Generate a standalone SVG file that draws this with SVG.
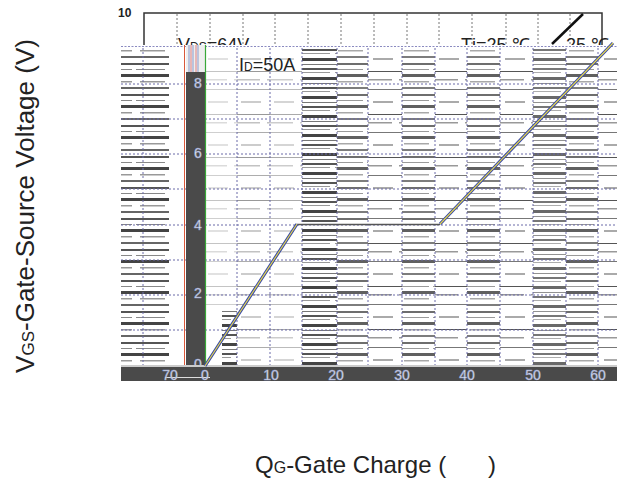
<svg xmlns="http://www.w3.org/2000/svg" width="617" height="481" viewBox="0 0 617 481">
<style>
.lbl{font-family:"Liberation Sans",Arial,sans-serif;fill:#222}
.tk{font-family:"Liberation Sans",Arial,sans-serif;font-size:14px;fill:#f4f4f4;stroke:#8a96c8;stroke-width:0.5;text-anchor:middle}
.grid{stroke:#6a6aa8;stroke-width:1;stroke-dasharray:2,2;fill:none}
.gridtop{stroke:#777;stroke-width:1;stroke-dasharray:2,2;fill:none}
</style>
<defs>
<pattern id="p1" width="33" height="31" patternUnits="userSpaceOnUse">
<rect x="0" y="1" width="33" height="2" fill="#555"/>
<rect x="4" y="7" width="29" height="1" fill="#888"/>
<rect x="0" y="12" width="33" height="3" fill="#444"/>
<rect x="8" y="19" width="25" height="1.5" fill="#999"/>
<rect x="0" y="25" width="33" height="2" fill="#666"/>
</pattern>
<pattern id="p2" width="33" height="43" patternUnits="userSpaceOnUse">
<rect x="0" y="3" width="33" height="1" fill="#777"/>
<rect x="10" y="15" width="20" height="2" fill="#aaa"/>
<rect x="0" y="28" width="33" height="1" fill="#555"/>
<rect x="3" y="36" width="26" height="1.5" fill="#999"/>
</pattern>
<pattern id="p3" width="33" height="19" patternUnits="userSpaceOnUse">
<rect x="0" y="1" width="33" height="3" fill="#444"/>
<rect x="0" y="7" width="33" height="1" fill="#777"/>
<rect x="0" y="11" width="33" height="2" fill="#555"/>
<rect x="5" y="15" width="28" height="1" fill="#999"/>
</pattern>
</defs>
<rect width="617" height="481" fill="#fff"/>

<g id="top-frame">
<path d="M144,45 V13 H602 V45" fill="none" stroke="#333" stroke-width="1.5"/>
<path class="gridtop" d="M177,14V45 M210,14V45 M243,14V45 M275,14V45 M308,14V45 M341,14V45 M374,14V45 M407,14V45 M439,14V45 M472,14V45 M506,14V45 M538,14V45 M570,14V45"/>
<text class="lbl" x="118" y="17" font-size="12" font-weight="bold">10</text>
<text class="lbl" x="178" y="51" font-size="18">V<tspan font-size="12">DS</tspan>=64V</text>
<text class="lbl" x="461" y="51" font-size="18">Tj=25 ℃</text>
<text class="lbl" x="566" y="51" font-size="18">25 ℃</text>
<line x1="552" y1="44" x2="583" y2="14" stroke="#111" stroke-width="2.5"/>
</g>

<g id="plot-area">
<rect x="121" y="45" width="496" height="322" fill="#fff"/>
<rect x="121" y="48" width="48" height="318" fill="url(#p1)"/>
<rect x="205" y="48" width="32" height="260" fill="url(#p2)" opacity="0.35"/>
<rect x="222" y="310" width="15" height="56" fill="url(#p3)"/>
<rect x="237" y="48" width="33" height="318" fill="url(#p2)" opacity="0.6"/>
<rect x="270" y="48" width="32" height="318" fill="url(#p2)" opacity="0.5"/>
<rect x="302" y="48" width="35" height="318" fill="url(#p3)"/>
<rect x="337" y="48" width="31" height="318" fill="url(#p1)" opacity="0.85"/>
<rect x="368" y="48" width="34" height="318" fill="url(#p2)"/>
<rect x="402" y="48" width="33" height="318" fill="url(#p1)" opacity="0.85"/>
<rect x="435" y="48" width="32" height="318" fill="url(#p2)"/>
<rect x="467" y="48" width="33" height="318" fill="url(#p1)" opacity="0.85"/>
<rect x="500" y="48" width="33" height="318" fill="url(#p2)"/>
<rect x="533" y="48" width="33" height="318" fill="url(#p3)" opacity="0.8"/>
<rect x="566" y="48" width="32" height="318" fill="url(#p1)" opacity="0.85"/>
<rect x="598" y="48" width="19" height="318" fill="url(#p2)"/>
<line x1="121" y1="46.5" x2="617" y2="46.5" stroke="#8a8ac0" stroke-width="1.2" stroke-dasharray="2,1.5"/>
<path class="grid" d="M121,84H617 M121,119H617 M121,154H617 M121,189H617 M121,225H617 M121,260H617 M121,295H617 M121,330H617"/>
<path class="grid" d="M143,48V366 M237,48V366 M270,48V366 M302,48V366 M337,48V366 M368,48V366 M402,48V366 M435,48V366 M467,48V366 M500,48V366 M533,48V366 M566,48V366 M598,48V366"/>
</g>

<g id="y-bar">
<rect x="186" y="45" width="19" height="27" fill="#eee"/>
<path d="M189,45V72 M193,45V72 M198,45V72" stroke="#8899cc" stroke-width="1"/>
<path d="M191,45V72 M196,45V72" stroke="#e08080" stroke-width="1"/>
<rect x="186" y="72" width="19" height="295" fill="#4a4a4a"/>
<line x1="184.5" y1="45" x2="184.5" y2="367" stroke="#d9583a" stroke-width="1"/>
<line x1="205.5" y1="45" x2="205.5" y2="367" stroke="#38a838" stroke-width="1.2"/>
<text class="tk" x="198" y="88">8</text>
<text class="tk" x="198" y="158">6</text>
<text class="tk" x="198" y="230">4</text>
<text class="tk" x="198" y="298">2</text>
<text class="tk" x="198" y="369">0</text>
</g>

<g id="x-bar">
<rect x="121" y="365" width="496" height="2" fill="#ccc"/>
<rect x="121" y="367" width="496" height="14" fill="#4a4a4a"/>
<line x1="165" y1="377.5" x2="210" y2="377.5" stroke="#ddd" stroke-width="1"/>
<text class="tk" x="170" y="380">70</text>
<text class="tk" x="205" y="380">0</text>
<text class="tk" x="271" y="380">10</text>
<text class="tk" x="336" y="380">20</text>
<text class="tk" x="402" y="380">30</text>
<text class="tk" x="467" y="380">40</text>
<text class="tk" x="533" y="380">50</text>
<text class="tk" x="598" y="380">60</text>
</g>

<g id="connectors">
<line x1="297" y1="224.5" x2="440" y2="224.5" stroke="#555" stroke-width="1.5"/>
<path d="M205,366 L297,224 M440,224 L613,43" fill="none" stroke="#3a4aa8" stroke-width="3.2"/>
<path d="M205,366 L297,224 M440,224 L613,43" fill="none" stroke="#e6d84a" stroke-width="1.1"/>
</g>

<g id="labels">
<text class="lbl" x="239" y="71" font-size="18">I<tspan font-size="12">D</tspan>=50A</text>
<text class="lbl" transform="translate(34,206) rotate(-90)" font-size="26" text-anchor="middle">V<tspan font-size="17">GS</tspan>-Gate-Source Voltage (V)</text>
<text class="lbl" x="255" y="473" font-size="24">Q<tspan font-size="16">G</tspan>-Gate Charge (<tspan x="488">)</tspan></text>
</g>
</svg>
